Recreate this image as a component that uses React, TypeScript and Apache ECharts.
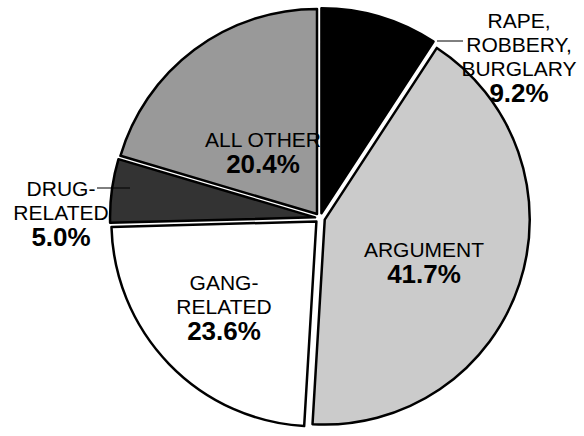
import React, { useEffect, useRef } from "react";
import * as echarts from "echarts";

const categories = ["RAPE,\nROBBERY,\nBURGLARY", "ARGUMENT", "GANG-\nRELATED", "DRUG-\nRELATED", "ALL OTHER"];
const values = [9.2, 41.7, 23.6, 5.0, 20.4];
const colors = ["#000000", "#cbcbcb", "#ffffff", "#333333", "#999999"];
const hasLeader = [true, false, false, true, false];

// label anchor positions (block centres) and leader lines
const labelPos: [number, number][] = [
  [519, 57],
  [424, 262],
  [224, 307],
  [61, 213],
  [263, 152],
];
const leaderLines: Record<number, number[][]> = {
  0: [[437, 41], [450, 41], [463, 41]],
  3: [[130, 188], [114, 188], [97, 188]],
};

const FONT = 'Arial, "Liberation Sans", Helvetica, sans-serif';
const CENTER = [320, 218];
const RADIUS = 205;

export default function App() {
  const ref = useRef<HTMLDivElement>(null);
  useEffect(() => {
    document.body.style.margin = "0";
    const chart = echarts.init(ref.current!, null, { renderer: "svg" });
    const sectorData = categories.map((name, i) => ({
      name,
      value: values[i],
      selected: true,
      itemStyle: { color: colors[i] },
    }));
    const labelData = categories.map((name, i) => ({
      name,
      value: values[i],
      labelLine: {
        show: hasLeader[i],
        lineStyle: { color: "#000", width: 1 },
      },
    }));
    chart.setOption({
      animation: false,
      backgroundColor: "#ffffff",
      series: [
        {
          type: "pie",
          z: 2,
          center: CENTER,
          radius: RADIUS,
          startAngle: 90,
          clockwise: true,
          silent: true,
          selectedMode: "multiple",
          selectedOffset: 5,
          itemStyle: { borderColor: "#000", borderWidth: 2.5 },
          label: { show: false },
          labelLine: { show: false },
          data: sectorData,
        },
        {
          type: "pie",
          z: 5,
          center: CENTER,
          radius: RADIUS,
          startAngle: 90,
          clockwise: true,
          silent: true,
          avoidLabelOverlap: false,
          itemStyle: { color: "rgba(0,0,0,0)", borderWidth: 0 },
          label: {
            show: true,
            position: "outside",
            color: "#000",
            fontFamily: FONT,
            align: "center",
            overflow: "none",
            formatter: (p: any) => {
              const lines = String(p.name).split("\n").map((l: string) => `{n|${l}}`);
              return lines.join("\n") + `\n{p|${Number(p.value).toFixed(1)}%}`;
            },
            rich: {
              n: { fontSize: 21, lineHeight: 24, fontFamily: FONT, color: "#000", align: "center" },
              p: { fontSize: 26, lineHeight: 26, fontWeight: "bold", fontFamily: FONT, color: "#000", align: "center" },
            },
          },
          labelLayout: (params: any) => {
            const i = params.dataIndex;
            const res: any = {
              x: labelPos[i][0],
              y: labelPos[i][1],
              align: "center",
              verticalAlign: "middle",
            };
            if (leaderLines[i]) res.labelLinePoints = leaderLines[i];
            return res;
          },
          data: labelData,
        },
      ],
    });
    return () => chart.dispose();
  }, []);
  return <div ref={ref} style={{ width: 584, height: 436 }} />;
}
